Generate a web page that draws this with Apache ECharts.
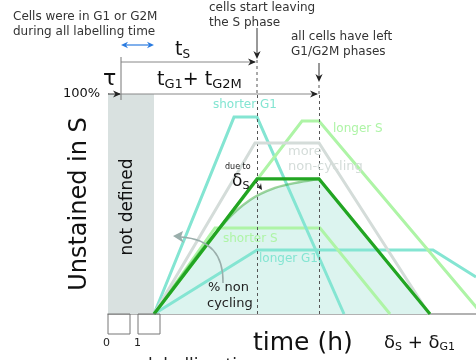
<!DOCTYPE html>
<html>
<head>
<meta charset="utf-8">
<script src="https://cdn.jsdelivr.net/npm/echarts@6/dist/echarts.min.js"></script>
<style>
  html, body { margin: 0; padding: 0; background: #fff; }
  #chart { width: 476px; height: 360px; }
</style>
</head>
<body>
<div id="chart"></div>
<script>
// time (arbitrary units) at which labelled cells begin to be counted
const labelStart = 4.6;
// tS end and tG1 + tG2M end
const markTimes = [14.9, 21.1];

// fraction of unstained cells in S (%) for each scenario, as [time, %]
const mainCase      = [[4.6, 0], [14.9, 61.4], [21.1, 61.4], [32.2, 0]];
const moreNonCyc    = [[4.6, 0], [14.7, 77.7], [21.1, 77.7], [32.1, 0]];
const shorterG1     = [[4.6, 0], [12.6, 89.5], [14.9, 89.5], [23.6, 0]];
const longerS       = [[4.6, 0], [19.4, 87.7], [21.1, 87.7], [37.4, 0]];
const shorterS      = [[4.6, 0], [10.7, 39.1], [21.2, 39.1], [28.2, 0]];
const longerG1      = [[4.6, 0], [14.9, 29.1], [32.5, 29.1], [36.8, 16.8]];
const smoothRise    = [[4.6, 0], [8.2, 22.3], [11.7, 41.8], [14.2, 51.8], [16.7, 57.3], [19.2, 60.0], [21.1, 61.4]];
const descentTail   = [[21.1, 61.4], [32.2, 0]];

const teal = '#84e5d2';
const paleGreen = '#aef4a6';
const paleGrey = '#d4dcd9';
const darkGreen = '#22a522';
const fillTeal = '#dcf4ef';

const chart = echarts.init(document.getElementById('chart'), null, { renderer: 'canvas' });

function line(name, data, color, width, z, extra) {
  return Object.assign({
    name, type: 'line', data, symbol: 'none', z,
    lineStyle: { color, width, cap: 'butt', join: 'miter' },
    silent: true, animation: false
  }, extra || {});
}

const option = {
  animation: false,
  grid: { left: 108, right: 0, top: 94, bottom: 46 },
  xAxis: {
    type: 'value', min: 0, max: 36.8,
    axisLine: { show: true, lineStyle: { color: '#999', width: 1.5 } },
    axisTick: { show: false }, axisLabel: { show: false }, splitLine: { show: false }
  },
  yAxis: {
    type: 'value', min: 0, max: 100,
    axisLine: { show: true, lineStyle: { color: '#888', width: 1 } },
    axisTick: { show: false }, axisLabel: { show: false }, splitLine: { show: false }
  },
  series: [
    // shaded area under the smoothed response
    line('riseFill', smoothRise, fillTeal, 0, 1, {
      smooth: 0.35, areaStyle: { color: fillTeal, opacity: 1 },
      markArea: {
        silent: true,
        itemStyle: { color: '#d9e1e0' },
        data: [[{ coord: [0, 0] }, { coord: [labelStart, 100] }]]
      }
    }),
    line('tailFill', descentTail, fillTeal, 0, 1, { areaStyle: { color: fillTeal, opacity: 1 } }),
    line('longer G1', longerG1, teal, 3, 3),
    line('shorter S', shorterS, paleGreen, 3, 3),
    line('shorter G1', shorterG1, teal, 3, 4),
    line('longer S', longerS, paleGreen, 3, 4),
    line('more non-cycling', moreNonCyc, paleGrey, 3, 5),
    line('due to dS', smoothRise, 'rgba(40,160,40,0.45)', 2.5, 6, { smooth: 0.35 }),
    line('main', mainCase, darkGreen, 3.2, 7, {
      markLine: {
        silent: true, symbol: 'none', label: { show: false },
        lineStyle: { color: '#555', type: [3, 3], width: 1 },
        data: markTimes.map(t => [{ coord: [t, 0] }, { coord: [t, 100] }])
      }
    })
  ]
};
chart.setOption(option);

// pixel helpers for annotations tied to the data scale
const px = (x, y) => chart.convertToPixel({ gridIndex: 0 }, [x, y]);
const xS = px(markTimes[0], 0)[0];
const xG = px(markTimes[1], 0)[0];
const x0 = px(0, 0)[0];
const yBase = px(0, 0)[1];
const yTop = px(0, 100)[1];
const xStart = px(labelStart, 0)[0];

function arrowHead(x, y, dir, color, size) {
  const s = size || 7, w = s * 0.45;
  let pts;
  if (dir === 'right') pts = [[x, y], [x - s, y - w], [x - s * 0.7, y], [x - s, y + w]];
  else if (dir === 'left') pts = [[x, y], [x + s, y - w], [x + s * 0.7, y], [x + s, y + w]];
  else pts = [[x, y], [x - w, y - s], [x, y - s * 0.7], [x + w, y - s]];
  return { type: 'polygon', shape: { points: pts }, style: { fill: color }, z: 20 };
}
function seg(x1, y1, x2, y2, color, w, dash) {
  return { type: 'line', shape: { x1, y1, x2, y2 }, style: { stroke: color, lineWidth: w || 1, lineDash: dash || null }, z: 20 };
}
function txt(text, x, y, font, fill) {
  return { type: 'text', z: 30, style: { text, x, y, font, fill, textVerticalAlign: 'middle' } };
}
function richTxt(text, x, y, big, small, drop) {
  return {
    type: 'text', z: 30,
    style: {
      text, x, y, textVerticalAlign: 'middle',
      rich: {
        b: { font: big + 'px ' + sans, fill: '#111' },
        s: { font: small + 'px ' + sans, fill: '#111', padding: [drop, 0, 0, 0] }
      }
    }
  };
}
const sans = '"DejaVu Sans", Verdana, sans-serif';
const xTau = x0 + 13;

const graphics = [
  // extend dashed marks above the plot area
  seg(xS, 60, xS, yTop, '#555', 1, [3, 3]),
  seg(xG, 85, xG, yTop, '#555', 1, [3, 3]),
  // τ marker and start-of-counting bracket
  seg(xTau, 57, xTau, 100, '#777', 1),
  seg(x0, yTop, xTau - 1, yTop, '#333', 1),
  arrowHead(xTau, yTop, 'right', '#222', 8),
  // tS span
  seg(xTau, 62, xS - 2, 62, '#888', 1),
  arrowHead(xS - 1, 62, 'right', '#222', 8),
  // tG1 + tG2M span
  seg(xTau, yTop, xG - 2, yTop, '#888', 1),
  arrowHead(xG - 1, yTop, 'right', '#222', 8),
  // callout arrows
  seg(xS, 28, xS, 55, '#333', 1),
  arrowHead(xS, 59, 'down', '#222', 8),
  seg(xG, 63, xG, 78, '#333', 1),
  arrowHead(xG, 82, 'down', '#222', 8),
  // blue double arrow
  seg(xTau + 3, 45, xStart - 3, 45, '#2a7be0', 1.2),
  arrowHead(xTau, 45, 'left', '#2a7be0', 7),
  arrowHead(xStart, 45, 'right', '#2a7be0', 7),
  // time boxes below the axis
  { type: 'rect', shape: { x: x0, y: yBase, width: 22, height: 20 }, style: { fill: 'none', stroke: '#777', lineWidth: 1 }, z: 20 },
  { type: 'rect', shape: { x: 138, y: yBase, width: 22, height: 20 }, style: { fill: 'none', stroke: '#777', lineWidth: 1 }, z: 20 },
  // curved arrow for non-cycling fraction
  { type: 'bezierCurve', shape: { x1: 223, y1: 283, x2: 181, y2: 237, cpx1: 224, cpy1: 240 }, style: { stroke: '#9aaeab', lineWidth: 1.5, fill: 'none' }, z: 20 },
  { type: 'polygon', shape: { points: [[173, 236], [183, 231], [181, 237], [184, 243]] }, style: { fill: '#9aaeab' }, z: 20 },
  // small arrow under δS
  seg(256, 182, 260, 187, '#222', 1),
  { type: 'polygon', shape: { points: [[262, 190], [257, 187], [260, 186], [261, 183]] }, style: { fill: '#222' }, z: 20 },

  // text
  txt('Cells were in G1 or G2M', 13, 17, '12px ' + sans, '#333'),
  txt('during all labelling time', 13, 32, '12px ' + sans, '#333'),
  txt('cells start leaving', 209, 8, '12px ' + sans, '#333'),
  txt('the S phase', 209, 23, '12px ' + sans, '#333'),
  txt('all cells have left', 291, 37, '12px ' + sans, '#333'),
  txt('G1/G2M phases', 291, 52, '12px ' + sans, '#333'),
  txt('τ', 103, 79, '22px ' + sans, '#111'),
  txt('100%', 63, 94, '13px ' + sans, '#111'),
  richTxt('{b|t}{s|S}', 175, 50, 19, 12, 10),
  richTxt('{b|t}{s|G1}{b|+ t}{s|G2M}', 157, 80, 19, 13, 10),
  txt('shorter G1', 213, 105, '12px ' + sans, teal),
  txt('longer S', 333, 129, '12px ' + sans, paleGreen),
  txt('more', 288, 152, '13px ' + sans, paleGrey),
  txt('non-cycling', 288, 167, '13px ' + sans, paleGrey),
  txt('due to', 225, 167, '8px ' + sans, '#222'),
  richTxt('{b|δ}{s|S}', 232, 182, 17, 11, 8),
  txt('shorter S', 223, 239, '12px ' + sans, paleGreen),
  txt('longer G1', 259, 259, '12px ' + sans, teal),
  txt('% non', 208, 288, '13px ' + sans, '#222'),
  txt('cycling', 207, 304, '13px ' + sans, '#222'),
  txt('0', 103, 343, '11px ' + sans, '#222'),
  txt('1', 134, 343, '11px ' + sans, '#222'),
  txt('time (h)', 253, 343, '25px ' + sans, '#111'),
  richTxt('{b|δ}{s|S}{b| + δ}{s|G1}', 384, 343, 18, 11, 8),
  txt('labelling time', 148, 367, '17px ' + sans, '#222'),
  {
    type: 'text', z: 30, x: 80, y: 204, rotation: Math.PI / 2,
    style: { text: 'Unstained in S', x: 0, y: 0, font: '24px ' + sans, fill: '#111', textAlign: 'center', textVerticalAlign: 'middle' }
  },
  {
    type: 'text', z: 30, x: 128, y: 207, rotation: Math.PI / 2,
    style: { text: 'not defined', x: 0, y: 0, font: '17px ' + sans, fill: '#111', textAlign: 'center', textVerticalAlign: 'middle' }
  }
];
chart.setOption({ graphic: { elements: graphics } });
</script>
</body>
</html>
